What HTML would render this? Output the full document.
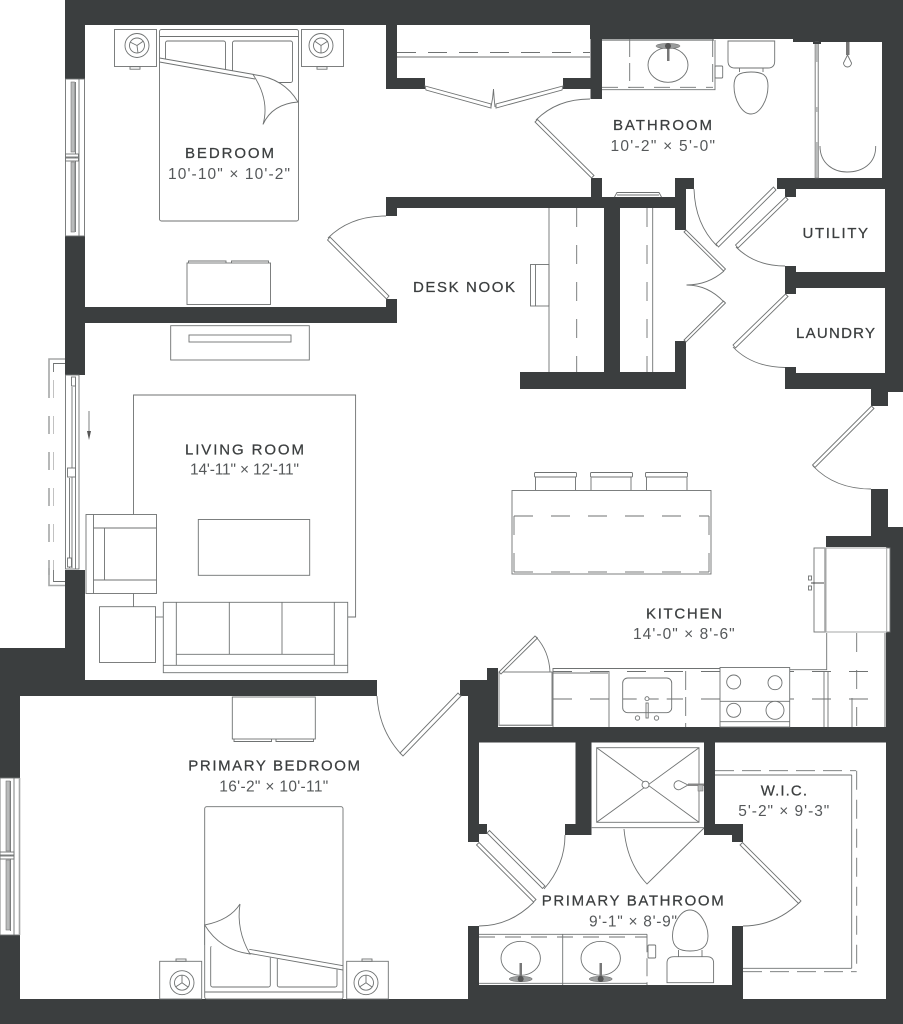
<!DOCTYPE html>
<html>
<head>
<meta charset="utf-8">
<style>
html,body{margin:0;padding:0;background:#fff;}
svg{display:block;}
.w{fill:#3b3e3f;stroke:none;}
.l{fill:none;stroke:#6f7272;stroke-width:.9;}
.f{fill:#fff;stroke:#6f7272;stroke-width:.9;}
.g{fill:#b9bbbb;stroke:#777;stroke-width:.6;}
.b{fill:none;stroke:#a5a7a7;stroke-width:1.6;}
.t{font-family:"Liberation Sans",sans-serif;font-size:15px;fill:#3b3e3f;stroke:#3b3e3f;stroke-width:.25;}
.s{font-family:"Liberation Sans",sans-serif;font-size:15.5px;fill:#55585a;}
</style>
</head>
<body>
<svg width="903" height="1024" viewBox="0 0 903 1024" xmlns="http://www.w3.org/2000/svg">
<rect width="903" height="1024" fill="#fff"/>

<!-- WALLS -->
<g class="w">
<rect x="65" y="0" width="838" height="25"/>
<rect x="590" y="0" width="313" height="39"/>
<rect x="793" y="0" width="110" height="42"/>
<rect x="882" y="0" width="21" height="178"/>
<rect x="885" y="178" width="18" height="214"/>
<rect x="65" y="0" width="20" height="79"/>
<rect x="65" y="236" width="20" height="139"/>
<rect x="65" y="570" width="20" height="126"/>
<rect x="0" y="648" width="85" height="48"/>
<rect x="0" y="680" width="377" height="16"/>
<rect x="0" y="648" width="20" height="130"/>
<rect x="0" y="935" width="20" height="89"/>
<rect x="0" y="999" width="903" height="25"/>
<rect x="386" y="0" width="11" height="89"/>
<rect x="386" y="78" width="39" height="11"/>
<rect x="590.5" y="0" width="11.5" height="99"/>
<rect x="563" y="78" width="39" height="11"/>
<rect x="85" y="307" width="312" height="16"/>
<rect x="386" y="299" width="11" height="24"/>
<rect x="386" y="197" width="300" height="11"/>
<rect x="386" y="197" width="11" height="19"/>
<rect x="591" y="178" width="11" height="25"/>
<rect x="675" y="178" width="11" height="52"/>
<rect x="675" y="178" width="19" height="11"/>
<rect x="604" y="200" width="16" height="175"/>
<rect x="520" y="372" width="166" height="17"/>
<rect x="675" y="341" width="11" height="48"/>
<rect x="777" y="178" width="126" height="11"/>
<rect x="785" y="178" width="11" height="19"/>
<rect x="785" y="272" width="118" height="16"/>
<rect x="785" y="266" width="11" height="28"/>
<rect x="785" y="373" width="118" height="16"/>
<rect x="785" y="367" width="11" height="22"/>
<rect x="871" y="385" width="32" height="7"/>
<rect x="871" y="385" width="17" height="21"/>
<rect x="871" y="489" width="17" height="58"/>
<rect x="871" y="527" width="32" height="20"/>
<rect x="826" y="536" width="60" height="11"/>
<rect x="886" y="527" width="17" height="497"/>
<rect x="468" y="727" width="435" height="15.5"/>
<rect x="460" y="680" width="38" height="16"/>
<rect x="487" y="668" width="11" height="28"/>
<rect x="468" y="680" width="30" height="62"/>
<rect x="468" y="727" width="11" height="115"/>
<rect x="468" y="824" width="19" height="10"/>
<rect x="468" y="926" width="11" height="98"/>
<rect x="468" y="985" width="275" height="39"/>
<rect x="732" y="926" width="11" height="98"/>
<rect x="575.5" y="742" width="16" height="93"/>
<rect x="565" y="824" width="26" height="11"/>
<rect x="704" y="742" width="11" height="93"/>
<rect x="704" y="824" width="39" height="11"/>
<rect x="732" y="824" width="11" height="18"/>
</g>

<!-- WINDOWS -->
<g>
<rect class="l" x="65.5" y="79" width="19" height="157"/>
<line class="l" x1="79" y1="79" x2="79" y2="236"/>
<line class="l" x1="75.5" y1="82" x2="75.5" y2="232"/>
<rect class="g" x="71" y="82" width="3.5" height="70"/>
<rect class="g" x="71" y="162" width="3.5" height="70"/>
<rect class="f" x="65.5" y="154" width="13" height="3"/>
<rect class="f" x="65.5" y="158" width="13" height="3"/>

<rect class="l" x="0" y="778" width="19.5" height="157"/>
<line class="b" x1="19.5" y1="778" x2="19.5" y2="935"/>
<line class="l" x1="14" y1="778" x2="14" y2="935"/>
<line class="l" x1="10.5" y1="781" x2="10.5" y2="931"/>
<rect class="g" x="6" y="781" width="4" height="70"/>
<rect class="g" x="6" y="860" width="4" height="70"/>
<rect class="f" x="0" y="852" width="14" height="3"/>
<rect class="f" x="0" y="856" width="14" height="3"/>

<rect class="l" x="65.5" y="375" width="13.5" height="194"/>
<line class="l" x1="75.5" y1="378" x2="75.5" y2="569"/>
<line class="l" x1="72" y1="387" x2="72" y2="568"/>
<line class="l" x1="69.5" y1="478" x2="69.5" y2="568"/>
<rect class="f" x="71.5" y="377" width="4" height="9"/>
<rect class="f" x="67.5" y="468" width="8" height="9"/>
<rect class="f" x="67.5" y="558" width="4" height="9"/>
<polyline class="b" points="65,359 49,359 49,380"/>
<line class="b" x1="49" y1="380" x2="49" y2="575" stroke-dasharray="18 18"/>
<polyline class="b" points="49,568 49,585.5 65,585.5"/>
<polyline class="l" points="65,363.5 53.5,363.5 53.5,372"/>
<line x1="53.5" y1="380" x2="53.5" y2="570" stroke="#bbb" stroke-width=".9" stroke-dasharray="18 18"/>
<polyline class="l" points="53.5,570 53.5,581.5 65,581.5"/>
<line class="l" x1="89" y1="411" x2="89" y2="434"/>
<polygon points="87,431 91,431 89,440" fill="#555"/>
</g>

<!-- BEDROOM -->
<g>
<rect class="l" x="114.5" y="29.5" width="42" height="37"/>
<rect class="l" x="130" y="66.7" width="10" height="2.5"/>
<circle class="l" cx="137" cy="45.5" r="12"/>
<circle class="l" cx="137" cy="45.5" r="7.5"/>
<path class="l" d="M137 45.5 L130 42 M137 45.5 L143.5 41 M137 45.5 L138 53"/>
<rect class="l" x="301.5" y="29.5" width="42" height="37"/>
<rect class="l" x="317" y="66.7" width="10" height="2.5"/>
<circle class="l" cx="321" cy="45.5" r="12"/>
<circle class="l" cx="321" cy="45.5" r="7.5"/>
<path class="l" d="M321 45.5 L314.5 41 M321 45.5 L328 41 M321 45.5 L321 53"/>
<rect class="l" x="159.5" y="29.5" width="139" height="191.5" rx="2"/>
<line class="l" x1="159.5" y1="36.5" x2="298.5" y2="36.5"/>
<rect class="l" x="165.5" y="41" width="60" height="40" rx="2"/>
<rect class="l" x="232.5" y="41" width="60" height="41.5" rx="2"/>
<polygon fill="#fff" points="160,58 253,74.5 298,102 263,124 160,110"/>
<line class="l" x1="159.5" y1="58" x2="254" y2="74.5"/>
<line class="l" x1="159.5" y1="62" x2="255" y2="79"/>
<path class="f" d="M253 74.5 Q284 78 298 102 Q272 104 263 124.5 Q270 100 253 74.5 Z"/>
<rect class="l" x="187" y="263" width="83.5" height="41.5"/>
<path class="l" d="M188.5 263 V261 H226 V263 M231.5 263 V261 H268.5 V263"/>
<path class="l" d="M386 216 Q350 216 328 238"/>
<polygon class="f" points="327.5,240 330,237 389,296 386.5,299"/>
</g>

<!-- CLOSET TOP -->
<g>
<line class="l" x1="397" y1="57" x2="590" y2="57"/>
<line class="l" x1="397" y1="52.5" x2="590" y2="52.5" stroke-dasharray="19 12"/>
<polygon class="f" points="425,86 426,90 491,108 491,104"/>
<polygon class="f" points="563,86 562,90 496,108 496,104"/>
<path class="l" d="M491 107 Q493 98 493.5 89 Q494 98 495 107"/>
</g>

<!-- BATHROOM -->
<g>
<line x1="602" y1="40" x2="714" y2="40" stroke="#a5a7a7" stroke-width="2"/>
<polyline class="l" points="602,89.7 715,89.7 715,40"/>
<line class="l" x1="602" y1="87.3" x2="713" y2="87.3" stroke-dasharray="16 10"/>
<line class="l" x1="629.7" y1="39" x2="629.7" y2="88" stroke-dasharray="18 6"/>
<line class="l" x1="712.7" y1="39" x2="712.7" y2="88" stroke-dasharray="18 7"/>
<ellipse class="l" cx="668" cy="65" rx="20" ry="17.3"/>
<rect x="667" y="44" width="2.5" height="17" fill="#777"/>
<ellipse cx="668" cy="46" rx="12" ry="2.6" fill="#9a9c9c" stroke="#666" stroke-width=".5"/>
<circle cx="668" cy="46" r="3" fill="#555"/>
<rect class="l" x="715" y="66" width="7.7" height="12" rx="1"/>
<path class="l" d="M728 41 H774.7 V61 Q774.7 68 768 68 H735 Q728 68 728 61 Z"/>
<path class="l" d="M739.5 68 V72 M763 68 V72"/>
<path class="l" d="M751 72 C738 72 734 76 734 86 C734 100 742 114 751 114 C760 114 768 100 768 86 C768 76 764 72 751 72 Z"/>
<rect class="g" x="815" y="42" width="3.5" height="136"/>
<rect x="816" y="62" width="1.5" height="45" fill="#fff"/>
<rect x="816" y="112" width="1.5" height="30" fill="#fff"/>
<rect x="813" y="42" width="8" height="2" fill="#3b3e3f"/>
<path class="l" d="M820 146 C820 164 834 172 847 172 C862 172 876 164 875.7 146"/>
<rect x="846" y="42" width="3.5" height="13" fill="#777"/>
<path class="l" d="M847.5 55 L851.5 63 A4 4 0 1 1 843.5 63 Z"/>
<path class="l" d="M614.5 197 L617 192.5 H659 L661.5 197 M617 195 H659"/>
<path class="l" d="M590 99 Q557 99 536 120"/>
<polygon class="f" points="535,122 537.5,119.5 594,175.5 591.5,178"/>
</g>

<!-- DESK AND CLOSET -->
<g>
<line class="l" x1="549" y1="208" x2="549" y2="372"/>
<line class="l" x1="576.7" y1="208" x2="576.7" y2="372" stroke-dasharray="19 18"/>
<rect class="l" x="530.5" y="264.5" width="18.5" height="41.5"/>
<line class="l" x1="535.5" y1="264.5" x2="535.5" y2="306"/>
<line class="l" x1="647" y1="208" x2="647" y2="372" stroke-dasharray="19 18"/>
<line class="l" x1="652.7" y1="208" x2="652.7" y2="372"/>
<polygon class="f" points="684,232 686,230 725.5,269 723.5,271"/>
<polygon class="f" points="684,340 686,342 725.5,303 723.5,301"/>
<path class="l" d="M724 271 Q708 285 686.5 285 Q708 285 724 302"/>
</g>

<!-- HALL DOORS -->
<g>
<path class="l" d="M694 189 Q695 224 717 246"/>
<polygon class="f" points="716,244 718.5,247 776,190 773.5,187"/>
<polygon class="f" points="735.5,245 738,248 788,199.5 785.5,197"/>
<path class="l" d="M736 247 Q755 266 785 266"/>
<polygon class="f" points="733,345 735.5,348 788,296.5 785.5,294"/>
<path class="l" d="M733 347 Q752 367 785 367.5"/>
<polygon class="f" points="812.5,465 815,467.5 874,408.5 871.5,406"/>
<path class="l" d="M813 466 Q835 489 871 489"/>
</g>

<!-- LIVING -->
<g>
<rect class="l" x="170.7" y="325.7" width="138.6" height="34.3"/>
<rect class="l" x="189" y="335" width="102" height="7"/>
<polyline class="l" points="133.5,514.5 133.5,395 355.6,395 355.6,617 347.7,617"/>
<rect class="f" x="86" y="514.5" width="70.5" height="79"/>
<path class="l" d="M93.5 514.5 V593.5 M93.5 528 H156.5 M93.5 580 H156.5 M104.5 528 V580"/>
<line class="l" x1="133.5" y1="593.5" x2="133.5" y2="606.7"/>
<rect class="l" x="99.5" y="606.7" width="56" height="55.8"/>
<line class="l" x1="155.5" y1="617" x2="163.3" y2="617"/>
<rect class="f" x="163.3" y="602.3" width="184.4" height="70.4"/>
<path class="l" d="M176.3 602.3 V665.3 M334.3 602.3 V665.3 M163.3 665.3 H347.7 M176.3 654.3 H334.3 M229.3 602.3 V654.3 M282 602.3 V654.3"/>
<rect class="l" x="198.3" y="519.5" width="111.4" height="55.8"/>
</g>

<!-- PRIMARY BEDROOM -->
<g>
<rect class="l" x="232.3" y="697" width="83" height="42"/>
<path class="l" d="M234 739 V741.5 H271.5 V739 M276 739 V741.5 H313.5 V739"/>
<path class="l" d="M377 696 Q379 730 401 754"/>
<polygon class="f" points="400,753 403,756 461,696 458,693"/>
<rect class="l" x="204.7" y="806.7" width="138.3" height="192.3" rx="2"/>
<line class="l" x1="204.7" y1="992" x2="343" y2="992"/>
<rect class="l" x="210.7" y="945.7" width="59.6" height="41.3" rx="2"/>
<rect class="l" x="277.3" y="950" width="59.7" height="37" rx="2"/>
<polygon fill="#fff" points="205,925 240,904 250,935 342,950 342,970.5 250,954 205,945"/>
<line class="l" x1="249.3" y1="949.3" x2="343" y2="965.7"/>
<line class="l" x1="250" y1="953.5" x2="343" y2="970"/>
<line class="l" x1="204.7" y1="925" x2="204.7" y2="945"/>
<path class="f" d="M204.7 925 Q220 950 250 954 Q236 930 240 904 Q230 920 204.7 925 Z"/>
<rect class="l" x="159.7" y="961.3" width="42" height="37.7"/>
<rect class="l" x="176" y="959" width="10" height="2.3"/>
<circle class="l" cx="182" cy="982.7" r="12"/>
<circle class="l" cx="182" cy="982.7" r="7.5"/>
<path class="l" d="M182 982.7 L182 975 M182 982.7 L175.5 987 M182 982.7 L188 987"/>
<rect class="l" x="346.7" y="961.3" width="41.6" height="37.7"/>
<rect class="l" x="362" y="959" width="10" height="2.3"/>
<circle class="l" cx="366" cy="982.7" r="12"/>
<circle class="l" cx="366" cy="982.7" r="7.5"/>
<path class="l" d="M366 982.7 L366 975 M366 982.7 L359.5 987 M366 982.7 L372 987"/>
</g>

<!-- ISLAND -->
<g>
<path class="l" d="M535.5 490 V477.5 M575.5 490 V477.5"/>
<rect class="l" x="534.5" y="472.5" width="42" height="4.5" rx="1"/>
<path class="l" d="M591 490 V477.5 M631 490 V477.5"/>
<rect class="l" x="590.5" y="472.5" width="42" height="4.5" rx="1"/>
<path class="l" d="M646.5 490 V477.5 M687 490 V477.5"/>
<rect class="l" x="645.5" y="472.5" width="42" height="4.5" rx="1"/>
<rect class="l" x="512" y="490.5" width="199" height="83.5"/>
<line class="l" x1="514" y1="516" x2="709" y2="516" stroke-dasharray="19 18"/>
<line class="b" x1="514" y1="572" x2="709" y2="572" stroke-dasharray="19 18"/>
<path class="l" d="M514 516 V535 M514 553 V572 M709 516 V535 M709 553 V572"/>
</g>

<!-- KITCHEN -->
<g>
<rect class="f" x="814" y="548" width="76" height="84"/>
<rect x="826" y="548" width="60.7" height="84" fill="none" stroke="#a5a7a7" stroke-width="1"/>
<line class="b" x1="825" y1="548" x2="825" y2="632"/>
<line x1="811" y1="583" x2="824" y2="583" stroke="#333" stroke-width=".9"/>
<rect class="l" x="808.5" y="576" width="3" height="4"/>
<rect class="l" x="808.5" y="586" width="3" height="4"/>
<polyline class="l" points="553,727 553,668.5 720,668.5"/>
<polyline class="l" points="789.7,669.7 826.7,669.7 826.7,633"/>
<line class="l" x1="824" y1="671" x2="824" y2="727"/>
<line class="l" x1="828" y1="671" x2="828" y2="727"/>
<line class="l" x1="856.7" y1="633" x2="856.7" y2="727" stroke-dasharray="19 18"/>
<line class="l" x1="852" y1="698" x2="852" y2="727"/>
<line class="b" x1="885" y1="633" x2="885" y2="727"/>
<line class="l" x1="553" y1="671.5" x2="885" y2="671.5" stroke-dasharray="19 18"/>
<line class="l" x1="553" y1="699" x2="885" y2="699" stroke-dasharray="19 18"/>
<line class="l" x1="553" y1="673" x2="608" y2="673"/>
<line class="l" x1="609" y1="671" x2="609" y2="727"/>
<line class="l" x1="685.7" y1="671" x2="685.7" y2="727" stroke-dasharray="19 7"/>
<rect class="f" x="622.7" y="678" width="49" height="34.7" rx="5"/>
<line class="l" x1="622.7" y1="699" x2="671.7" y2="699" stroke-dasharray="14 8"/>
<circle class="f" cx="647" cy="698.7" r="2"/>
<rect class="l" x="646" y="703" width="2.2" height="15"/>
<circle class="l" cx="637.5" cy="718" r="2.2"/>
<circle class="l" cx="656.5" cy="718" r="2.2"/>
<rect class="f" x="720" y="667.5" width="69.7" height="59.5"/>
<line class="l" x1="720" y1="701.3" x2="789.7" y2="701.3"/>
<line class="l" x1="720" y1="721.7" x2="789.7" y2="721.7"/>
<circle class="l" cx="733.7" cy="682" r="7"/>
<circle class="l" cx="775" cy="682.7" r="7"/>
<circle class="f" cx="733.7" cy="710.3" r="7"/>
<circle class="f" cx="775" cy="710.3" r="9"/>
<rect class="l" x="499" y="672" width="53" height="53.5"/>
<line x1="499" y1="725" x2="552" y2="725" stroke="#a5a7a7" stroke-width="1"/>
<polygon class="f" points="499,672 535,636 537.5,638 501,674"/>
<path class="l" d="M536 637 Q549 651 550 672"/>
</g>

<!-- PRIMARY BATHROOM -->
<g>
<rect class="l" x="596.7" y="747.7" width="102.3" height="74.6"/>
<line class="l" x1="591.7" y1="827.7" x2="704" y2="827.7"/>
<line class="l" x1="596.7" y1="747.7" x2="699" y2="822.3"/>
<line class="l" x1="699" y1="747.7" x2="596.7" y2="822.3"/>
<circle class="f" cx="645.5" cy="784.7" r="3.5"/>
<rect x="688" y="783.5" width="16" height="2.5" fill="#888"/>
<rect class="g" x="698" y="785" width="5" height="6"/>
<path class="f" d="M688 785 L680 781 A4.5 4.5 0 1 0 680 789.5 Z"/>
<path class="l" d="M624 829 Q627 863 647 884 L704 828"/>
<polygon class="f" points="487,833 489.5,830.5 545,886 542.5,888.5"/>
<path class="l" d="M565 835 Q565 865 544 889"/>
<polygon class="f" points="476.5,845 479,842.5 536,899.5 533.5,902"/>
<path class="l" d="M534 902 Q510 926 479 926"/>
<polygon class="f" points="740,845 742.5,842.5 801,901 798.5,903.5"/>
<path class="l" d="M800 902 Q775 926 743 926"/>
<line class="l" x1="479" y1="934.3" x2="647" y2="934.3"/>
<line class="l" x1="479" y1="937" x2="647" y2="937" stroke-dasharray="16 10"/>
<line class="l" x1="562.7" y1="934.3" x2="562.7" y2="985"/>
<line class="l" x1="647" y1="934.3" x2="647" y2="985" stroke-dasharray="18 6"/>
<line class="l" x1="479" y1="983.3" x2="647" y2="983.3"/>
<ellipse class="l" cx="520.7" cy="958.3" rx="19.7" ry="17"/>
<ellipse class="l" cx="600.7" cy="958.3" rx="19.7" ry="17"/>
<rect x="519.5" y="963" width="2.5" height="17" fill="#777"/>
<rect x="599.5" y="963" width="2.5" height="17" fill="#777"/>
<ellipse cx="520.7" cy="979" rx="11.5" ry="2.7" fill="#9a9c9c" stroke="#666" stroke-width=".5"/>
<ellipse cx="600.7" cy="979" rx="11.5" ry="2.7" fill="#9a9c9c" stroke="#666" stroke-width=".5"/>
<circle cx="520.7" cy="979" r="3" fill="#555"/>
<circle cx="600.7" cy="979" r="3" fill="#555"/>
<rect class="l" x="648" y="945" width="7.7" height="13" rx="1"/>
<path class="l" d="M667 982.7 V963 Q667 956.7 674 956.7 H707 Q713.6 956.7 713.6 963 V982.7 Z"/>
<path class="l" d="M678.5 950 V956.7 M702 950 V956.7"/>
<path class="l" d="M690 910 C680 910 672.5 925 672.5 936 C672.5 948 680 951 690 951 C700 951 708 948 708 936 C708 925 700 910 690 910 Z"/>
</g>

<!-- WIC -->
<g>
<line class="l" x1="715" y1="770.7" x2="856" y2="770.7" stroke-dasharray="19 8"/>
<line class="l" x1="715" y1="775" x2="851.7" y2="775"/>
<line class="l" x1="851.7" y1="775" x2="851.7" y2="968.3"/>
<line class="l" x1="856.7" y1="770.7" x2="856.7" y2="971.7" stroke-dasharray="19 10"/>
<line class="l" x1="743" y1="968.3" x2="851.7" y2="968.3"/>
<line class="l" x1="743" y1="971.7" x2="856.7" y2="971.7" stroke-dasharray="19 8"/>
</g>

<!-- LABELS -->
<text class="t" x="185" y="158" textLength="89" lengthAdjust="spacing">BEDROOM</text>
<text class="s" x="168" y="179" textLength="122" lengthAdjust="spacing">10'-10" × 10'-2"</text>
<text class="t" x="613" y="130" textLength="99" lengthAdjust="spacing">BATHROOM</text>
<text class="s" x="610.5" y="151" textLength="104.5" lengthAdjust="spacing">10'-2" × 5'-0"</text>
<text class="t" x="413" y="292" textLength="102" lengthAdjust="spacing">DESK NOOK</text>
<text class="t" x="802.5" y="238" textLength="65.5" lengthAdjust="spacing">UTILITY</text>
<text class="t" x="796" y="338" textLength="79" lengthAdjust="spacing">LAUNDRY</text>
<text class="t" x="185" y="454.3" textLength="119" lengthAdjust="spacing">LIVING ROOM</text>
<text class="s" x="190" y="474.3" textLength="109" lengthAdjust="spacing">14'-11" × 12'-11"</text>
<text class="t" x="646" y="618.3" textLength="76" lengthAdjust="spacing">KITCHEN</text>
<text class="s" x="633" y="639" textLength="101.7" lengthAdjust="spacing">14'-0" × 8'-6"</text>
<text class="t" x="188.3" y="770.7" textLength="171.7" lengthAdjust="spacing">PRIMARY BEDROOM</text>
<text class="s" x="219.3" y="791.7" textLength="109" lengthAdjust="spacing">16'-2" × 10'-11"</text>
<text class="t" x="541.7" y="905.7" textLength="182" lengthAdjust="spacing">PRIMARY BATHROOM</text>
<text class="s" x="589" y="926.7" textLength="88" lengthAdjust="spacing">9'-1" × 8'-9"</text>
<text class="t" x="760.7" y="795.7" textLength="46.3" lengthAdjust="spacing">W.I.C.</text>
<text class="s" x="738.3" y="816" textLength="91" lengthAdjust="spacing">5'-2" × 9'-3"</text>
</svg>
</body>
</html>
